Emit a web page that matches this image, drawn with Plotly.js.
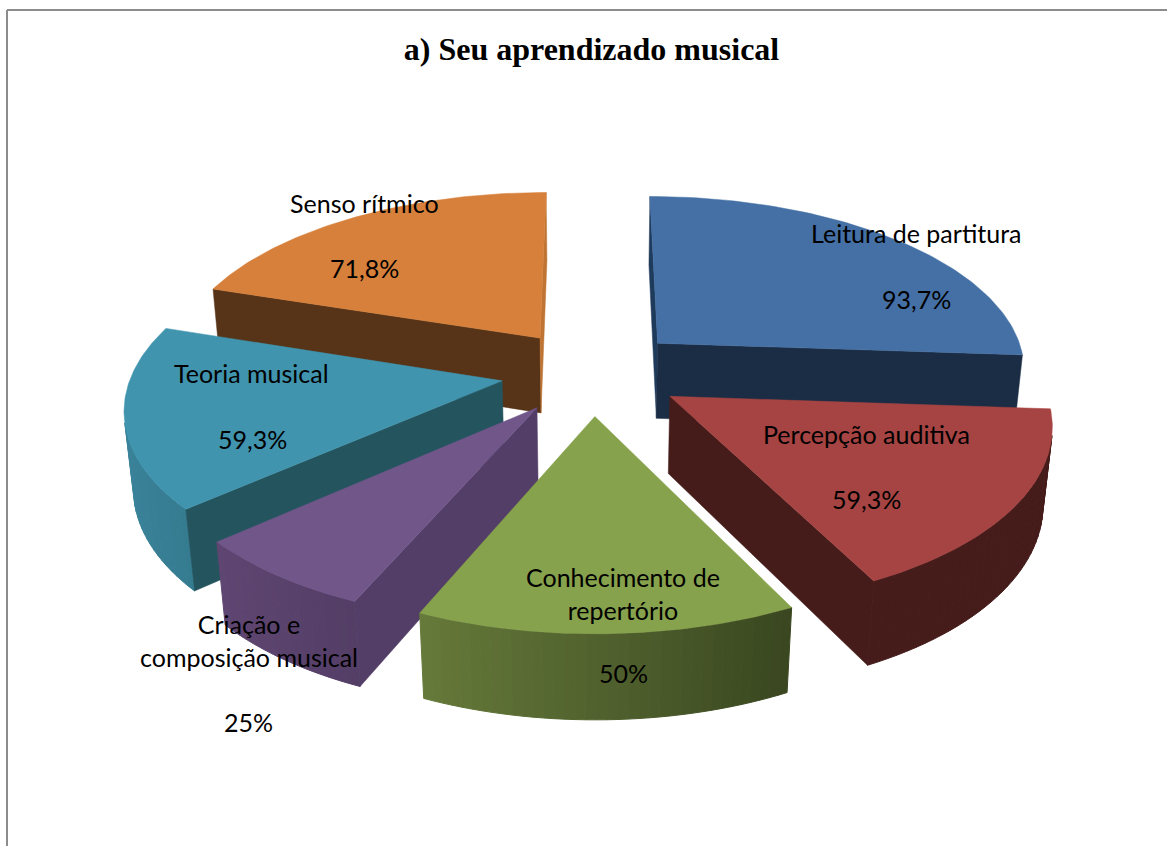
<!DOCTYPE html>
<html>
<head>
<meta charset="utf-8">
<script src="https://cdn.plot.ly/plotly-3.0.1.min.js"></script>
<style>
  html, body { margin: 0; padding: 0; background: #fff; }
  #chart { width: 1167px; height: 846px; }
</style>
</head>
<body>
<div id="chart"></div>
<script>
const chartTitle = "a) Seu aprendizado musical";
const categories = [
  "Leitura de partitura",
  "Percepção auditiva",
  "Conhecimento de<br>repertório",
  "Criação e<br>composição musical",
  "Teoria musical",
  "Senso rítmico",
];
const values = [93.7, 59.3, 50, 25, 59.3, 71.8];

// colours per slice
const topColors = ["#4570a5", "#a64443", "#87a24c", "#71568a", "#4094ae", "#d6803b"];
const startWallColors = ["#1f3b5c", "#451c1a", "#3c4a22", "#533e68", "#24555f", "#573317"];
const endWallColors = ["#1b2d45", "#451c1a", "#3c4a22", "#533e68", "#24555f", "#bf7433"];
const rimFromColors = ["#1b2d45", "#451c1a", "#394620", "#533e66", "#367c91", "#573317"];
const rimToColors = ["#1b2d45", "#451c1a", "#667a3a", "#5f4672", "#3f8ba5", "#573317"];

// label centres in picture pixels
const labelAt = [[916, 233], [866, 434], [623, 593], [249, 640], [251, 373], [364, 203]];
const percentAt = [[916, 299], [866, 499], [623, 673], [248, 722], [252, 439], [364, 268]];

// back to front
const drawOrder = [5, 0, 4, 1, 3, 2];

// projection fitted to the picture: unit pie on a plane seen in perspective, z=0 top, z=1 bottom
const explode = 0.247;
const cam = { cx: 592.3, f: 2709, d: 7.32, dz: 0.146, g0: 9333, g1: 10115, h0: -903, h1: -906.6 };

function project(x, y, z) {
  const w = cam.d + y + cam.dz * z;
  return [cam.cx + (cam.f * x) / w, cam.h0 + (cam.h1 - cam.h0) * z + (cam.g0 + (cam.g1 - cam.g0) * z) / w];
}

function area(pts) {
  let s = 0;
  pts.forEach((p, i) => {
    const q = pts[(i + 1) % pts.length];
    s += p[0] * q[1] - q[0] * p[1];
  });
  return s;
}

function hexToRgb(hex) {
  return [1, 3, 5].map((i) => parseInt(hex.substr(i, 2), 16));
}

function mix(a, b, t) {
  const ca = hexToRgb(a);
  const cb = hexToRgb(b);
  const c = ca.map((v, i) => Math.round(v + (cb[i] - v) * t));
  return `rgb(${c[0]},${c[1]},${c[2]})`;
}

function poly(pts, color, lw) {
  const closed = pts.concat([pts[0]]);
  return {
    x: closed.map((p) => p[0]),
    y: closed.map((p) => p[1]),
    type: "scatter",
    mode: "lines",
    fill: "toself",
    fillcolor: color,
    line: { color: color, width: lw },
    hoverinfo: "skip",
    showlegend: false,
  };
}

const total = values.reduce((a, b) => a + b, 0);
let cum = 0;
const slices = values.map((v) => {
  const a0 = (cum / total) * 2 * Math.PI;
  cum += v;
  return { a0, a1: (cum / total) * 2 * Math.PI };
});

function sliceTraces(i) {
  const { a0, a1 } = slices[i];
  const mid = (a0 + a1) / 2;
  const tx = explode * Math.sin(mid);
  const ty = explode * Math.cos(mid);
  const rim = (a, z) => project(tx + Math.sin(a), ty + Math.cos(a), z);
  const tip = (z) => project(tx, ty, z);
  const out = [];

  // outer wall, cut in strips for the shading
  const steps = 36;
  for (let k = 0; k < steps; k++) {
    const a = a0 + ((a1 - a0) * k) / steps;
    const b = a0 + ((a1 - a0) * (k + 1)) / steps;
    const quad = [rim(a, 0), rim(b, 0), rim(b, 1), rim(a, 1)];
    if (area(quad) < 0) out.push(poly(quad, mix(rimFromColors[i], rimToColors[i], (k + 0.5) / steps), 1));
  }

  // radial walls, only where they face the viewer
  const startWall = [tip(0), rim(a0, 0), rim(a0, 1), tip(1)];
  const endWall = [tip(0), rim(a1, 0), rim(a1, 1), tip(1)];
  if (area(startWall) < 0) out.push(poly(startWall, startWallColors[i], 0.5));
  if (area(endWall) > 0) out.push(poly(endWall, endWallColors[i], 0.5));

  // top face
  const top = [tip(0)];
  for (let k = 0; k <= 80; k++) top.push(rim(a0 + ((a1 - a0) * k) / 80, 0));
  out.push(poly(top, topColors[i], 0.5));
  return out;
}

const traces = [];
drawOrder.forEach((i) => traces.push(...sliceTraces(i)));

const labelFont = { family: "Lato, Carlito, sans-serif", size: 25, color: "#000" };
const annotations = [];
categories.forEach((name, i) => {
  annotations.push({ x: labelAt[i][0], y: labelAt[i][1], text: name, showarrow: false, font: labelFont, xanchor: "center", yanchor: "middle", align: "center" });
  annotations.push({ x: percentAt[i][0], y: percentAt[i][1], text: String(values[i]).replace(".", ",") + "%", showarrow: false, font: labelFont, xanchor: "center", yanchor: "middle" });
});

const border = { color: "#8c8c8c", width: 2 };
const layout = {
  width: 1167,
  height: 846,
  margin: { l: 0, r: 0, t: 0, b: 0 },
  paper_bgcolor: "#fff",
  plot_bgcolor: "#fff",
  showlegend: false,
  title: {
    text: `<b>${chartTitle}</b>`,
    font: { family: "Liberation Serif, serif", size: 32, color: "#000" },
    x: 591.5 / 1167,
    xanchor: "center",
    y: 1 - 49 / 846,
    yanchor: "middle",
  },
  xaxis: { range: [0, 1167], visible: false, fixedrange: true },
  yaxis: { range: [846, 0], visible: false, fixedrange: true },
  annotations,
  shapes: [
    { type: "line", x0: 7, x1: 7, y0: 10, y1: 846, line: border },
    { type: "line", x0: 7, x1: 1167, y0: 10, y1: 10, line: border },
  ],
};

Plotly.newPlot("chart", traces, layout, { displayModeBar: false, staticPlot: true });
</script>
</body>
</html>
